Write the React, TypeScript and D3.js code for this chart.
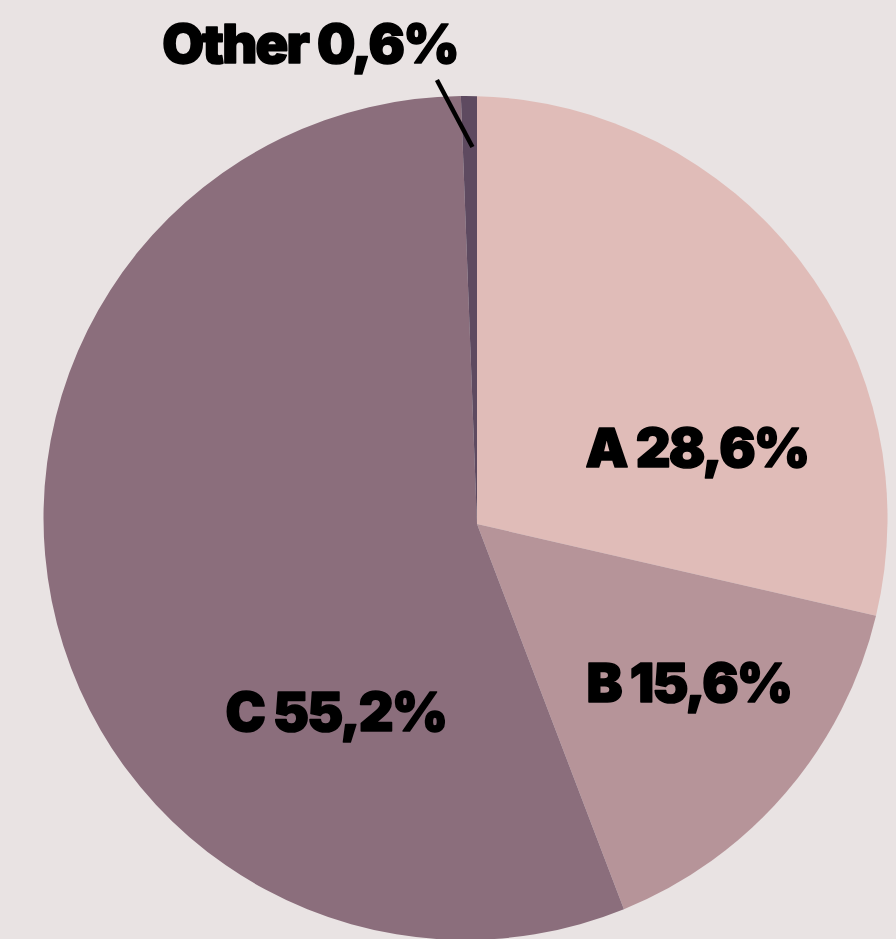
import React from "react";
import * as d3 from "d3";

const categories = ["A", "B", "C", "Other"];
const values = [28.6, 15.6, 55.2, 0.6];
const colors = ["#E0BCB8", "#B69499", "#8B6E7C", "#5E4A60"];

const W = 896;
const H = 939;
// pie vertex (angle origin) and outline circle
const V = { x: 477, y: 524 };
const C = { x: 465.5, y: 518 };
const R = 422;

// label placement (text centre x, baseline y)
const labelPos: Record<string, [number, number]> = {
  A: [697, 467],
  B: [689, 702],
  C: [336, 731],
  Other: [310, 63],
};

function rayHit(theta: number) {
  const dx = Math.sin(theta);
  const dy = -Math.cos(theta);
  const wx = V.x - C.x;
  const wy = V.y - C.y;
  const b = wx * dx + wy * dy;
  const c = wx * wx + wy * wy - R * R;
  const t = -b + Math.sqrt(b * b - c);
  return { x: V.x + t * dx, y: V.y + t * dy };
}

function slicePath(a0: number, a1: number) {
  const p0 = rayHit(a0);
  const p1 = rayHit(a1);
  const ang0 = Math.atan2(p0.y - C.y, p0.x - C.x);
  const ang1 = Math.atan2(p1.y - C.y, p1.x - C.x);
  let span = ang1 - ang0;
  while (span < 0) span += Math.PI * 2;
  const p = d3.path();
  p.moveTo(V.x, V.y);
  p.lineTo(p0.x, p0.y);
  p.arc(C.x, C.y, R, ang0, ang0 + span, false);
  p.closePath();
  return p.toString();
}

const fmt = (v: number) => v.toFixed(1).replace(".", ",") + "%";

export default function App() {
  const data = categories.map((c, i) => ({ c, v: values[i], color: colors[i] }));
  const arcs = d3
    .pie<{ c: string; v: number; color: string }>()
    .value((d) => d.v)
    .sort(null)(data);
  const other = arcs[3];
  const mid = (other.startAngle + other.endAngle) / 2;
  const hit = rayHit(mid);
  return (
    <svg
      width={W}
      height={H}
      style={{ position: "absolute", left: 0, top: 0, background: "#E9E3E3" }}
    >
      <rect x={0} y={0} width={W} height={H} fill="#E9E3E3" />
      {arcs.map((a) => (
        <path key={a.data.c} d={slicePath(a.startAngle, a.endAngle)} fill={a.data.color} />
      ))}
      <line
        x1={hit.x + 3.5}
        y1={hit.y + 51}
        x2={hit.x - 32}
        y2={hit.y - 16}
        stroke="#000"
        strokeWidth={4.5}
      />
      {arcs.map((a) => {
        const [x, y] = labelPos[a.data.c];
        return (
          <text
            key={"t" + a.data.c}
            x={x}
            y={y}
            textAnchor="middle"
            fontFamily="Inter, 'DejaVu Sans', sans-serif"
            fontWeight={900}
            fontSize={54}
            letterSpacing={-1.8}
            fill="#000"
            stroke="#000"
            strokeWidth={1.6}
            strokeLinejoin="round"
          >
            {a.data.c + " " + fmt(a.data.v)}
          </text>
        );
      })}
    </svg>
  );
}
